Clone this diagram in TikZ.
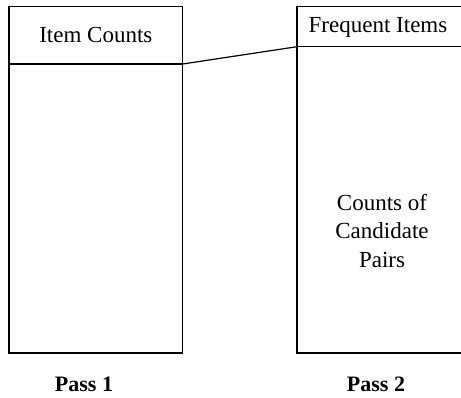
\documentclass[tikz,border=0pt]{standalone}
\usepackage{fontspec}
\setmainfont{Liberation Serif}
\begin{document}
\begin{tikzpicture}[x=1pt,y=-1pt,line width=1.2pt,
  font=\fontsize{23}{28.5}\selectfont,
  box/.style={draw,outer sep=0pt,inner sep=0pt,anchor=north west},
  txt/.style={inner sep=0pt,align=center},
  passlbl/.style={txt,font=\fontsize{22}{26}\selectfont\bfseries}]
\clip (0,0) rectangle (461,397);
\node[box,minimum width=173.7pt,minimum height=57.3pt] (ic) at (9,6.7) {Item Counts};
\node[box,minimum width=173.7pt,minimum height=289pt] (p1) at (ic.south west) {};
\node[box,minimum width=200pt,minimum height=40pt] (fi) at (297,6.7) {};
\node[box,minimum width=200pt,minimum height=306.3pt] (p2) at (fi.south west) {};
\node[txt] (fitext) at (378,27.5) {Frequent Items};
\node[txt] (ccp) at (382,231) {Counts of\\Candidate\\Pairs};
\draw (ic.south east) -- (fi.south west);
\node[passlbl] (pass1) at (84,384) {Pass 1};
\node[passlbl] (pass2) at (376,384) {Pass 2};
\end{tikzpicture}
\end{document}
